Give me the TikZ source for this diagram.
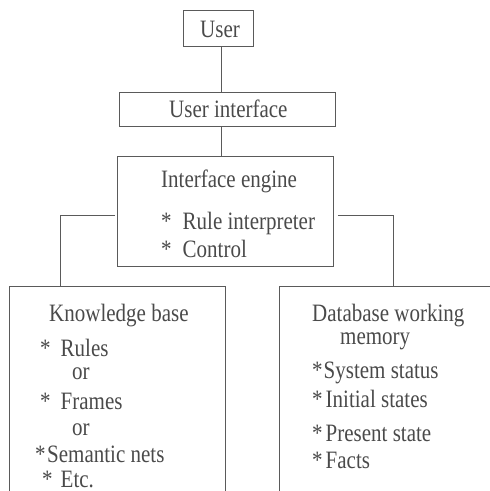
\documentclass[tikz,border=0pt]{standalone}
\usepackage{fontspec}
\setmainfont[FakeStretch=0.84]{Liberation Serif}
\definecolor{linec}{HTML}{5A5A5A}
\definecolor{txtc}{HTML}{4A4A4A}
\begin{document}
\begin{tikzpicture}[x=1pt,y=-1pt,
  box/.style={draw=linec, line width=0.9pt, inner sep=0pt, anchor=north west},
  txt/.style={text=txtc, font=\fontsize{25}{28}\selectfont, anchor=base west, inner sep=0pt},
  link/.style={draw=linec, line width=0.9pt}]
\useasboundingbox (0,0) rectangle (490,491);
\clip (0,0) rectangle (490,491);
% boxes
\node[box, minimum width=70pt, minimum height=36pt] (user) at (183,10) {};
\node[box, minimum width=216pt, minimum height=34pt] (ui) at (119,92) {};
\node[box, minimum width=216pt, minimum height=110pt] (eng) at (117,156) {};
\node[box, minimum width=216pt, minimum height=260pt] (kb) at (9,286) {};
\node[box, minimum width=260pt, minimum height=260pt] (db) at (279,286) {};
% connector helpers
\coordinate (cx) at (221,0);
\coordinate (ly) at (0,215);
\coordinate (lx) at (60,0);
\coordinate (rx) at (393,0);
\draw[link] (user.south -| cx) -- (ui.north -| cx);
\draw[link] (ui.south -| cx) -- (eng.north -| cx);
\draw[link] ([xshift=-2pt]eng.west |- ly) -| (kb.north -| lx);
\draw[link] ([xshift=4pt]eng.east |- ly) -| (db.north -| rx);
% texts
\node[txt] (tuser) at (200,37) {User};
\node[txt] (tui) at (169,117) {User interface};
\node[txt] (teng) at (161,187) {Interface engine};
\node[txt] (teng1) at (161,229) {*\hspace{11pt}Rule interpreter};
\node[txt] (teng2) at (161,257) {*\hspace{11pt}Control};
\node[txt] (tkb) at (49,321) {Knowledge base};
\node[txt] (tkb1) at (40,356) {*\hspace{10pt}Rules};
\node[txt] (tkb2) at (72,379) {or};
\node[txt] (tkb3) at (40,409) {*\hspace{10pt}Frames};
\node[txt] (tkb4) at (72,435) {or};
\node[txt] (tkb5) at (35,462) {*\hspace{1.5pt}Semantic nets};
\node[txt] (tkb6) at (42,487) {*\hspace{8pt}Etc.};
\node[txt] (tdb) at (312,321) {Database working};
\node[txt] (tdb0) at (340,344) {memory};
\node[txt] (tdb1) at (312,378) {*\hspace{1pt}System status};
\node[txt] (tdb2) at (312,407) {*\hspace{3pt}Initial states};
\node[txt] (tdb3) at (312,441) {*\hspace{3pt}Present state};
\node[txt] (tdb4) at (312,468) {*\hspace{3pt}Facts};
\end{tikzpicture}
\end{document}
